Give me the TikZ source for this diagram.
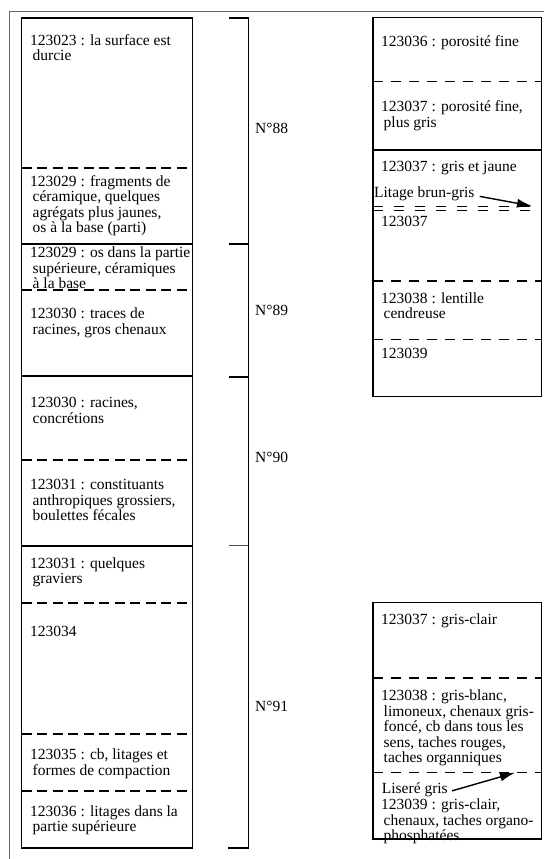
\documentclass[tikz,border=0pt]{standalone}
\usepackage{fontspec}
\setmainfont{Liberation Serif}
\usetikzlibrary{arrows.meta}
\newcommand\tst{\rule{0pt}{11pt}}
\newcommand\ind{\hspace*{2.5pt}}
\begin{document}
\begin{tikzpicture}[x=1pt,y=-1pt,
 txt/.style={anchor=north west,inner sep=0pt,align=left,font=\fontsize{15.5}{15.5}\selectfont},
 lbl/.style={anchor=west,inner sep=0pt,font=\fontsize{15.5}{15.5}\selectfont},
 box/.style={draw=black,line width=1.3pt},
 sep/.style={line width=1.3pt},
 dsepL/.style={line width=1.3pt,dash pattern=on 10pt off 5.5pt},
 dsepR/.style={line width=1.3pt,dash pattern=on 10pt off 8pt},
 dsepD/.style={line width=1.2pt,dash pattern=on 10pt off 11pt},
 brk/.style={line width=1.5pt},
 tick/.style={line width=2pt},
 thintick/.style={line width=1pt,draw=black!70},
 arr/.style={line width=1.4pt,-{Latex[length=15pt,width=9pt]}},
 framel/.style={draw=black!60,line width=1pt}]
\fill[white] (0,0) rectangle (544,859);
\useasboundingbox (0,0) rectangle (544,859);
% outer frame
\draw[framel] (544,11.7) -- (9.5,11.7) -- (9.5,859);
% left column
\draw[box] (21.5,18) rectangle (192.5,848);
\draw[sep] (21.5,244) -- (192.5,244);
\draw[sep] (21.5,376) -- (192.5,376);
\draw[sep] (21.5,546) -- (192.5,546);
\foreach \yy in {168,290,460,603,734,791}
  \draw[dsepL] (21.5,\yy) -- (192.5,\yy);
% brackets
\draw[brk] (248.3,18) -- (248.3,848);
\draw[tick] (229,18) -- (249,18);
\draw[tick] (229,244) -- (249,244);
\draw[tick] (229,376.5) -- (249,376.5);
\draw[thintick] (229,545) -- (248.3,545);
\draw[tick] (228,847.5) -- (249,847.5);
\node[lbl] (n88) at (255,128) {N°88};
\node[lbl] (n89) at (255,310) {N°89};
\node[lbl] (n90) at (255,457) {N°90};
\node[lbl] (n91) at (255,706) {N°91};
% left texts
\node[txt] (t1) at (30,34) {\tst 123023 : la surface est\\\ind durcie};
\node[txt] (t2) at (30,175) {\tst 123029 : fragments de\\\ind céramique, quelques\\\ind agrégats plus jaunes,\\\ind os à la base (parti)};
\node[txt] (t3) at (30,246.5) {\tst 123029 : os dans la partie\\\ind supérieure, céramiques\\\ind à la base};
\node[txt] (t4) at (30,307.5) {\tst 123030 : traces de\\\ind racines, gros chenaux};
\node[txt] (t5) at (30,396.5) {\tst 123030 : racines,\\\ind concrétions};
\node[txt] (t6) at (30,478.5) {\tst 123031 : constituants\\\ind anthropiques grossiers,\\\ind boulettes fécales};
\node[txt] (t7) at (30,557) {\tst 123031 : quelques\\\ind graviers};
\node[txt] (t8) at (30,625) {\tst 123034};
\node[txt] (t9) at (30,748.5) {\tst 123035 : cb, litages et\\\ind formes de compaction};
\node[txt] (t10) at (30,805) {\tst 123036 : litages dans la\\\ind partie supérieure};
% right top box
\draw[box] (373,17.5) rectangle (541.5,396.5);
\draw[dsepR] (373,81.7) -- (541.5,81.7);
\draw[sep] (373,150) -- (541.5,150);
\draw[dsepD] (373,206.7) -- (541.5,206.7);
\draw[dsepD] (373,210.7) -- (541.5,210.7);
\draw[dsepR] (373,281) -- (541.5,281);
\draw[dsepR] (373,339.3) -- (541.5,339.3);
\node[txt] (r1) at (381,35) {\tst 123036 : porosité fine};
\node[txt] (r2) at (381,100.5) {\tst 123037 : porosité fine,\\\ind plus gris};
\node[txt] (r3) at (381,160) {\tst 123037 : gris et jaune};
\node[txt] (lit) at (374,186) {\tst Litage brun-gris};
\node[txt] (r4) at (381,215) {\tst 123037};
\node[txt] (r5) at (381,292) {\tst 123038 : lentille\\\ind cendreuse};
\node[txt] (r6) at (381,347) {\tst 123039};
\coordinate (litend) at (532,206);
\draw[arr] ([xshift=5pt,yshift=-3pt]lit.east) -- (litend);
% right bottom box
\draw[box] (373,602.7) rectangle (541.5,839);
\draw[dsepR] (373,678) -- (541.5,678);
\draw[dsepR] (373,772.7) -- (541.5,772.7);
\node[txt] (b1) at (381,613.5) {\tst 123037 : gris-clair};
\node[txt] (b2) at (381,689.5) {\tst 123038 : gris-blanc,\\\ind limoneux, chenaux gris-\\\ind foncé, cb dans tous les\\\ind sens, taches rouges,\\\ind taches organniques};
\node[txt] (lis) at (381.7,782.5) {\tst Liseré gris};
\node[txt] (b3) at (381,798.5) {\tst 123039 : gris-clair,\\\ind chenaux, taches organo-\\\ind phosphatées};
\coordinate (lisend) at (515,772.7);
\draw[arr] ([xshift=4pt,yshift=-1pt]lis.east) -- (lisend);
\end{tikzpicture}
\end{document}
